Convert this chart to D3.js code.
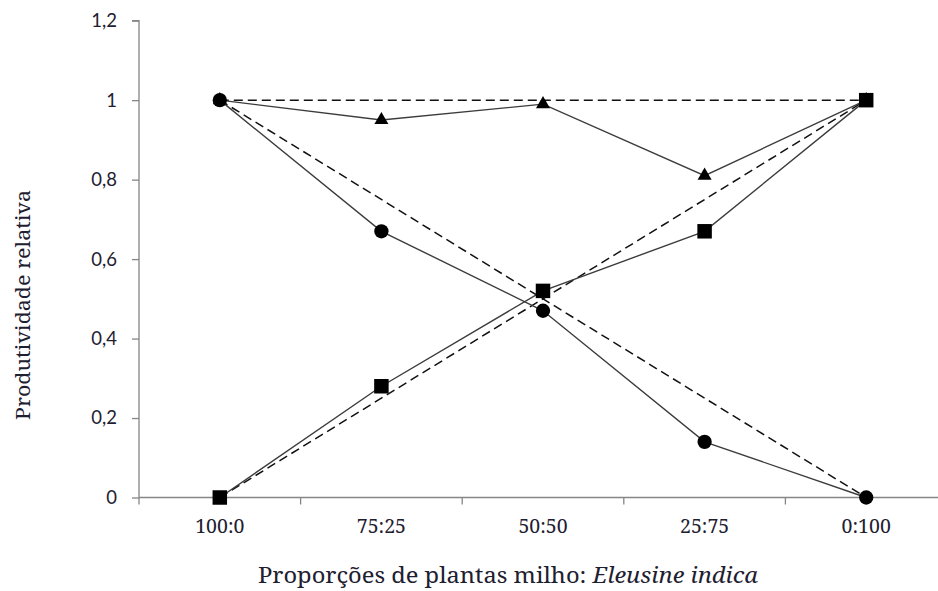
<!DOCTYPE html>
<html><head><meta charset="utf-8">
<script src="https://cdn.jsdelivr.net/npm/d3@7"></script>
<style>body{margin:0;background:#fff}
.serif{font-family:"Noto Serif","Liberation Serif","Times New Roman",serif}
.sans{font-family:Lato,"Open Sans",sans-serif}
</style>
</head><body>
<svg id="c" width="938" height="591"></svg>
<script>
const categories = ["100:0","75:25","50:50","25:75","0:100"];
const milho = [1, 0.67, 0.47, 0.14, 0];
const eleusine = [0, 0.28, 0.52, 0.67, 1];
const total = [1, 0.95, 0.99, 0.81, 1];
const refTotal = [1, 1];
const refMilho = [1, 0];
const refEleusine = [0, 1];
const yTicks = [0, 0.2, 0.4, 0.6, 0.8, 1, 1.2];

const svg = d3.select("#c");
const x = d3.scaleBand().domain(categories).range([139, 947]);
const y = d3.scaleLinear().domain([0, 1.2]).range([497.5, 20.7]);
const cx = c => x(c) + x.bandwidth()/2;
const axisColor = "#868686";
const textColor = "#1e2030";

// y axis
const ya = svg.append("g").attr("transform","translate(139,0)")
  .call(d3.axisLeft(y).tickValues(yTicks).tickSize(7).tickPadding(15)
    .tickFormat(d => d3.format(".1~f")(d).replace(".", ",")));
ya.attr("font-family", null).attr("font-size", null);
ya.selectAll("path,line").attr("stroke", axisColor).attr("stroke-width",1.3);
ya.select(".domain").attr("d", `M-7,${y(1.2)}H0V${y(0)}`);
ya.selectAll("text").attr("class","sans").style("font-size","18.5px").attr("fill",textColor);

// x axis
const xa = svg.append("g").attr("transform",`translate(0,${y(0)})`)
  .call(d3.axisBottom(x).tickSize(0).tickPadding(22));
xa.attr("font-family", null).attr("font-size", null);
xa.select(".domain").attr("stroke", axisColor).attr("stroke-width",1.3).attr("d","M139,0H947");
xa.selectAll("text").attr("class","serif").style("font-size","19.5px").attr("fill",textColor);
const bounds = d3.range(categories.length + 1).map(i => x.range()[0] + i * x.step());
xa.selectAll(".bt").data(bounds).enter().append("line").attr("class","bt")
  .attr("x1",d=>d).attr("x2",d=>d).attr("y1",0).attr("y2",7)
  .attr("stroke",axisColor).attr("stroke-width",1.3);

// titles
svg.append("text").attr("class","serif").attr("transform","translate(30,305) rotate(-90)")
  .attr("text-anchor","middle").style("font-size","20px").attr("fill",textColor)
  .attr("textLength",230).attr("lengthAdjust","spacingAndGlyphs").text("Produtividade relativa");
const xt = svg.append("text").attr("class","serif").attr("x",508).attr("y",583).attr("text-anchor","middle")
  .style("font-size","22px").attr("fill",textColor)
  .attr("textLength",500).attr("lengthAdjust","spacingAndGlyphs");
xt.append("tspan").text("Proporções de plantas milho: ");
xt.append("tspan").attr("font-style","italic").text("Eleusine indica");

// dashed reference lines
const ends = [categories[0], categories[categories.length-1]];
const line = d3.line().x(d => cx(d[0])).y(d => y(d[1]));
[refTotal, refMilho, refEleusine].forEach(s => {
  svg.append("path").attr("d", line(ends.map((c,i)=>[c, s[i]])))
    .attr("fill","none").attr("stroke","#111").attr("stroke-width",1.5).attr("stroke-dasharray","9,5");
});
// solid lines
[total, milho, eleusine].forEach(s => {
  svg.append("path").attr("d", line(categories.map((c,i)=>[c, s[i]])))
    .attr("fill","none").attr("stroke","#3c3c3c").attr("stroke-width",1.4);
});
// markers
const sym = (type, size) => d3.symbol().type(type).size(size)();
const markers = [[total, d3.symbolTriangle, 85], [eleusine, d3.symbolSquare, 210], [milho, d3.symbolCircle, 160]];
markers.forEach(([s, t, sz]) => {
  svg.append("g").selectAll("path").data(categories.map((c,i)=>[c,s[i]])).enter().append("path")
    .attr("d", sym(t, sz)).attr("transform", d => `translate(${cx(d[0])},${y(d[1])})`).attr("fill","#000");
});
</script>
</body></html>
